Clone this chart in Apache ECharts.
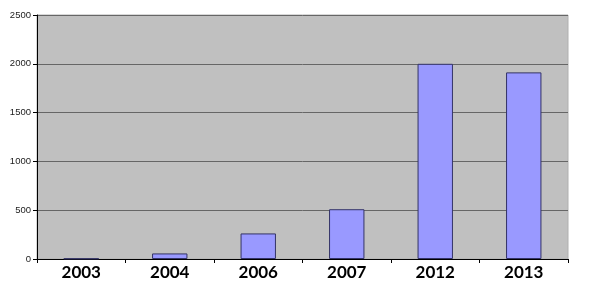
<!DOCTYPE html>
<html><head><meta charset="utf-8">
<script src="https://cdn.jsdelivr.net/npm/echarts@6/dist/echarts.min.js"></script>
<style>html,body{margin:0;padding:0;background:#fff}#c{width:600px;height:286px}</style>
</head><body><div id="c"></div>
<script>
const categories = ['2003','2004','2006','2007','2012','2013'];
const values = [5, 57, 262, 510, 2000, 1912];
const yTicks = [0, 500, 1000, 1500, 2000, 2500];

const chart = echarts.init(document.getElementById('c'));
chart.setOption({
  animation: false,
  grid: {left: 37, right: 32, top: 15, bottom: 27, show: true, backgroundColor: '#c0c0c0', borderColor: '#b0b0b0', borderWidth: 1},
  xAxis: {
    type: 'category', data: categories,
    axisLine: {lineStyle: {color: '#000', width: 1}},
    axisTick: {show: true, alignWithLabel: false, length: 4, lineStyle: {color: '#000'}},
    axisLabel: {color: '#000', fontFamily: 'Lato', fontWeight: 'bold', fontSize: 17, margin: 5}
  },
  yAxis: {
    type: 'value', min: 0, max: 2500, interval: 500,
    axisLine: {show: true, lineStyle: {color: '#000'}},
    axisTick: {show: true, length: 4, lineStyle: {color: '#000'}},
    axisLabel: {color: '#222', fontFamily: 'Liberation Sans', fontSize: 9.5, margin: 6,
      formatter: v => yTicks.includes(v) ? String(v) : ''},
    splitLine: {lineStyle: {color: '#666', width: 1}}
  },
  series: [{
    type: 'bar', data: values, barWidth: '40%',
    itemStyle: {color: '#9999ff', borderColor: '#333366', borderWidth: 1}
  }]
});
</script></body></html>
